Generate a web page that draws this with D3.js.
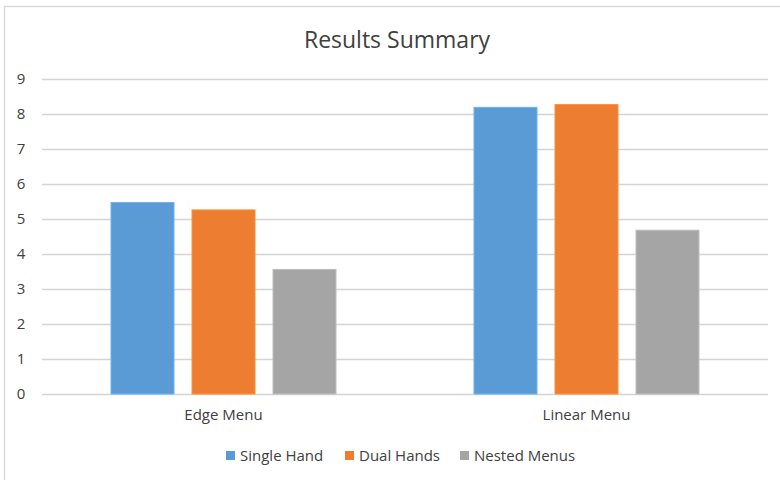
<!DOCTYPE html>
<html>
<head>
<meta charset="utf-8">
<script src="https://cdn.jsdelivr.net/npm/d3@7"></script>
<style>
  html, body { margin: 0; padding: 0; background: #fff; }
  #chart { width: 780px; height: 480px; }
  text { font-family: "Open Sans", "Noto Sans", sans-serif; fill: #404040; }
</style>
</head>
<body>
<div id="chart"></div>
<script>
// chart data
const categories = ["Edge Menu", "Linear Menu"]
const seriesNames = ["Single Hand", "Dual Hands", "Nested Menus"]
const singleHand = [5.47, 8.19]
const dualHands = [5.26, 8.27]
const nestedMenus = [3.56, 4.68]
const yTicks = [0, 1, 2, 3, 4, 5, 6, 7, 8, 9]
const colors = ["#5b9bd5", "#ed7d31", "#a5a5a5"]

function Plot(pid) {
  const width = 780
  const height = 480
  const plotLeft = 42, plotRight = 768
  const plotTop = 79, plotBottom = 394

  const svg = d3.select(pid).append("svg")
    .attr("viewBox", [0, 0, width, height])
    .attr("width", width)
    .attr("height", height)

  // chart frame (only top and left edges are visible in the crop)
  svg.append("path")
    .attr("d", `M4.5,${height} V6.5 H${width}`)
    .attr("fill", "none")
    .attr("stroke", "#d9d9d9")
    .attr("stroke-width", 1.5)

  svg.append("text")
    .attr("x", 397).attr("y", 48)
    .attr("text-anchor", "middle")
    .attr("font-size", 23)
    .attr("fill", "#333")
    .text("Results Summary")

  const yScale = d3.scaleLinear()
    .domain([0, 9])
    .range([plotBottom, plotTop])

  const x0 = d3.scaleBand()
    .domain(categories)
    .range([plotLeft, plotRight])
    .paddingInner(0)
    .paddingOuter(0)

  // group width 225 within a 363 band
  const groupPad = (x0.bandwidth() - 225) / 2
  const x1 = d3.scaleBand()
    .domain(seriesNames)
    .range([groupPad, x0.bandwidth() - groupPad])
    .paddingInner(18 / 81)
    .paddingOuter(0)

  // gridlines
  svg.append("g").classed("grid", true)
    .selectAll("line")
    .data(yTicks)
    .join("line")
    .attr("x1", plotLeft).attr("x2", plotRight)
    .attr("y1", d => Math.round(yScale(d)) + 0.5)
    .attr("y2", d => Math.round(yScale(d)) + 0.5)
    .attr("stroke", "#d4d4d4")
    .attr("stroke-width", 1.4)

  // y axis labels
  const axisY = svg.append("g").classed("axis y", true)
    .attr("transform", `translate(26,0)`)
    .call(d3.axisLeft(yScale).tickValues(yTicks).tickSize(0).tickPadding(0))
  axisY.select(".domain").remove()
  axisY.selectAll("text")
    .attr("font-size", 15)
    .attr("font-family", null)
    .attr("fill", null)
    .attr("text-anchor", "middle")
    .attr("dx", "-5")

  // bars
  const rows = categories.map((c, i) => ({
    cat: c,
    vals: [singleHand[i], dualHands[i], nestedMenus[i]]
  }))

  const groups = svg.append("g").classed("bars", true)
    .selectAll("g")
    .data(rows)
    .join("g")
    .attr("transform", d => `translate(${x0(d.cat)},0)`)

  groups.selectAll("rect")
    .data(d => d.vals.map((v, j) => ({ name: seriesNames[j], v: v, j: j })))
    .join("rect")
    .attr("x", d => x1(d.name))
    .attr("y", d => yScale(d.v))
    .attr("width", x1.bandwidth())
    .attr("height", d => yScale(0) - yScale(d.v))
    .attr("fill", d => colors[d.j])
    .attr("stroke", d => d3.color(colors[d.j]).brighter(0.4))
    .attr("stroke-width", 1)

  // x axis labels
  const axisX = svg.append("g").classed("axis x", true)
    .attr("transform", `translate(0,${plotBottom})`)
    .call(d3.axisBottom(x0).tickSize(0).tickPadding(15))
  axisX.select(".domain").remove()
  axisX.selectAll("text")
    .attr("font-size", 15)
    .attr("font-family", null)
    .attr("fill", null)

  // legend
  const legendX = [226, 345, 460]
  const legend = svg.append("g").classed("legend", true)
    .selectAll("g")
    .data(seriesNames)
    .join("g")
    .attr("transform", (d, i) => `translate(${legendX[i]},451)`)
  legend.append("rect")
    .attr("width", 9).attr("height", 9)
    .attr("fill", (d, i) => colors[i])
  legend.append("text")
    .attr("x", 14).attr("y", 9.5)
    .attr("font-size", 15)
    .text(d => d)
}

Plot("#chart")
</script>
</body>
</html>
